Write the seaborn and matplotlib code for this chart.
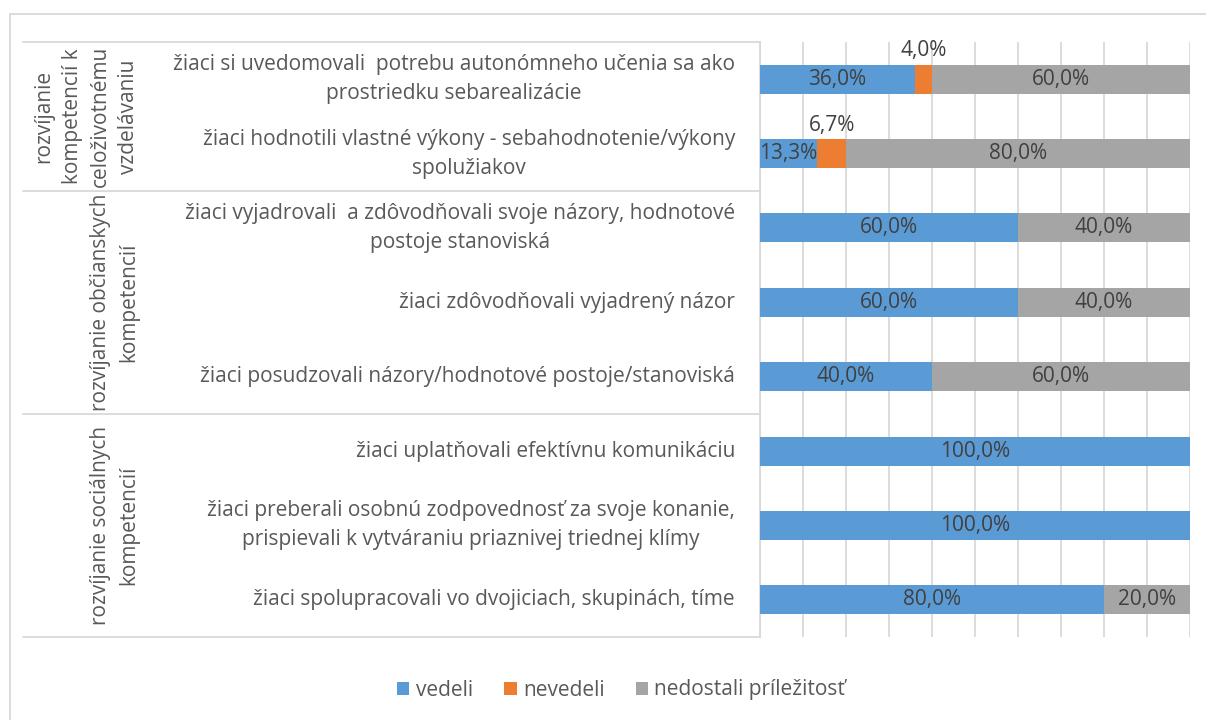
import numpy as np
import pandas as pd
import matplotlib
matplotlib.use('Agg')
import matplotlib.pyplot as plt
import seaborn as sns
from matplotlib.lines import Line2D
from matplotlib.patches import Patch

# ---- data ----
categories = [
    'žiaci si uvedomovali  potrebu autonómneho učenia sa ako\nprostriedku sebarealizácie',
    'žiaci hodnotili vlastné výkony - sebahodnotenie/výkony\nspolužiakov',
    'žiaci vyjadrovali  a zdôvodňovali svoje názory, hodnotové\npostoje stanoviská',
    'žiaci zdôvodňovali vyjadrený názor',
    'žiaci posudzovali názory/hodnotové postoje/stanoviská',
    'žiaci uplatňovali efektívnu komunikáciu',
    'žiaci preberali osobnú zodpovednosť za svoje konanie,\nprispievali k vytváraniu priaznivej triednej klímy',
    'žiaci spolupracovali vo dvojiciach, skupinách, tíme',
]
vedeli = [36.0, 13.3, 60.0, 60.0, 40.0, 100.0, 100.0, 80.0]
nevedeli = [4.0, 6.7, 0, 0, 0, 0, 0, 0]
nedostali = [60.0, 80.0, 40.0, 40.0, 60.0, 0, 0, 20.0]

groups = [
    'rozvíjanie\nkompetencií k\nceloživotnému\nvzdelávaniu',
    'rozvíjanie občianskych\nkompetencií',
    'rozvíjanie sociálnych\nkompetencií',
]
group_sizes = [2, 3, 3]

series_names = ['vedeli', 'nevedeli', 'nedostali príležitosť']
colors = ['#5b9bd5', '#ed7d31', '#a5a5a5']
text_col = '#595959'
FS = 15

df = pd.DataFrame({'cat': categories, 'vedeli': vedeli,
                   'nevedeli': nevedeli, 'nedostali': nedostali})
df['c1'] = df['vedeli']
df['c2'] = np.where(df['nevedeli'] > 0, df['vedeli'] + df['nevedeli'], 0)
df['c3'] = np.where(df['nedostali'] > 0,
                    df['vedeli'] + df['nevedeli'] + df['nedostali'], 0)

sns.set_style('white')
plt.rcParams['font.family'] = ['Open Sans', 'DejaVu Sans']

fig = plt.figure(figsize=(12.06, 7.2), dpi=100)
ax = fig.add_axes([760 / 1206, 1 - 637 / 720, 430 / 1206, 595 / 720])

# stacked bars drawn as cumulative layers
for col, c in zip(['c3', 'c2', 'c1'], colors[::-1]):
    sns.barplot(data=df, y='cat', x=col, orient='h', color=c, width=0.39,
                linewidth=0, saturation=1, ax=ax, zorder=3)

ax.set_xlim(0, 100)
ax.set_ylim(len(categories) - 0.5, -0.5)
ax.set_xticks(np.arange(0, 101, 10))
ax.xaxis.grid(True, color='#d9d9d9', linewidth=1.3)
ax.set_axisbelow(True)
ax.set_xticklabels([])
ax.set_yticks([])
ax.set_xlabel('')
ax.set_ylabel('')
ax.tick_params(length=0)
for s in ['top', 'right', 'bottom']:
    ax.spines[s].set_visible(False)
ax.spines['left'].set_color('#d9d9d9')
ax.spines['left'].set_linewidth(1.3)

# data labels
for i in range(len(categories)):
    v, n, g = vedeli[i], nevedeli[i], nedostali[i]
    if v > 0:
        ax.text(v / 2, i, f'{v:.1f}%'.replace('.', ','), ha='center',
                va='center', fontsize=FS, color='#404040', zorder=5)
    if n > 0:
        ax.text(v + n / 2, i - 0.38, f'{n:.1f}%'.replace('.', ','),
                ha='center', va='center', fontsize=FS, color='#404040',
                zorder=5)
    if g > 0:
        ax.text(v + n + g / 2, i, f'{g:.1f}%'.replace('.', ','),
                ha='center', va='center', fontsize=FS, color='#404040',
                zorder=5)

# category labels
ytr = ax.get_yaxis_transform()
for i, cat in enumerate(categories):
    ax.text(-25 / 430, i, cat, transform=ytr, ha='right', va='center',
            multialignment='center', fontsize=FS, color=text_col,
            linespacing=1.5)

# group separators and labels
x_left = (23 - 760) / 430
bounds = np.concatenate([[0], np.cumsum(group_sizes)]) - 0.5
for b in bounds:
    ax.add_line(Line2D([x_left, 0], [b, b], transform=ytr, color='#d9d9d9',
                       linewidth=1.3, clip_on=False))
for gname, lo, hi in zip(groups, bounds[:-1], bounds[1:]):
    ax.text((139 - 760) / 430, (lo + hi) / 2, gname, transform=ytr,
            rotation=90, ha='right', va='center', multialignment='center',
            fontsize=FS, color=text_col, linespacing=1.45)

# outer chart border
fig.add_artist(Line2D([10 / 1206, 10 / 1206], [0, 1 - 14 / 720],
                      transform=fig.transFigure, color='#d9d9d9', linewidth=1.3))
fig.add_artist(Line2D([10 / 1206, 1], [1 - 14 / 720, 1 - 14 / 720],
                      transform=fig.transFigure, color='#d9d9d9', linewidth=1.3))

handles = [Patch(facecolor=c, edgecolor='none') for c in colors]
fig.legend(handles, series_names, loc='center', bbox_to_anchor=(0.515, 1 - 690 / 720),
           ncol=3, frameon=False, fontsize=FS, handlelength=0.6,
           handleheight=0.6, handletextpad=0.3, columnspacing=1.5,
           labelcolor=text_col)

fig.savefig('out.png', dpi=100)
